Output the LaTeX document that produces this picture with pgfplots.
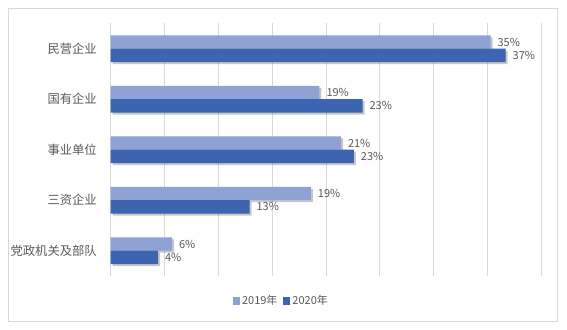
\documentclass[border=0pt]{standalone}
\usepackage{fontspec}
\setmainfont{Noto Sans CJK SC}
\usepackage{pgfplots}
\pgfplotsset{compat=1.18}
\usetikzlibrary{shadows}
\definecolor{c19}{HTML}{8FA2D4}
\definecolor{c20}{HTML}{3C64B0}
\definecolor{txt}{HTML}{595959}
\definecolor{grd}{HTML}{D9D9D9}
\begin{document}
\begin{tikzpicture}
\fill[white] (0bp,0bp) rectangle (567bp,330bp);
\useasboundingbox (0bp,0bp) rectangle (567bp,330bp);
\draw[grd, line width=0.75bp] (8bp,8.8bp) rectangle (557bp,321.7bp);
\begin{axis}[
  at={(110.7bp,54.05bp)}, anchor=south west,
  scale only axis, width=430.5bp, height=252.5bp,
  xmin=0, xmax=40, ymin=-0.5, ymax=4.5, y dir=reverse,
  xtick={0,5,...,40}, xticklabels={},
  xmajorgrids, grid style={grd, line width=0.75bp},
  ytick={0,1,2,3,4},
  yticklabels={民营企业,国有企业,事业单位,三资企业,党政机关及部队},
  yticklabel style={font=\fontsize{12.3bp}{14bp}\selectfont, text=txt, inner sep=0pt, xshift=-9.5bp},
  axis line style={draw=none}, tick style={draw=none},
  xbar, bar width=13.3bp,
  nodes near coords={\pgfmathprintnumber[fixed,precision=0]{\pgfplotspointmeta}\%},
  nodes near coords style={font=\fontsize{11bp}{13bp}\selectfont, text=txt, anchor=west, xshift=3.5bp},
  /pgf/number format/assume math mode=true,
  legend image code/.code={\fill[#1] (0bp,-3.5bp) rectangle (7bp,3.5bp);},
  legend columns=2,
  legend style={draw=none, fill=none, at={(0.3967,-0.0992)}, anchor=center,
    font=\fontsize{11bp}{13bp}\selectfont, text=txt,
    /tikz/every even column/.append style={column sep=4bp}},
]
\addlegendimage{fill=c19, draw=none}
\addlegendentry{2019年}
\addlegendimage{fill=c20, draw=none}
\addlegendentry{2020年}
\addplot[forget plot, fill=c19, draw=none, bar shift=6.65bp,
  drop shadow={shadow xshift=2bp, shadow yshift=-2bp, fill=black, opacity=0.22}]
  coordinates {(35.3,0) (19.4,1) (21.4,2) (18.6,3) (5.7,4)};
\addplot[forget plot, fill=c20, draw=none, bar shift=-6.65bp,
  drop shadow={shadow xshift=2bp, shadow yshift=-2bp, fill=black, opacity=0.22}]
  coordinates {(36.7,0) (23.4,1) (22.6,2) (12.9,3) (4.4,4)};
\end{axis}
\end{tikzpicture}
\end{document}
